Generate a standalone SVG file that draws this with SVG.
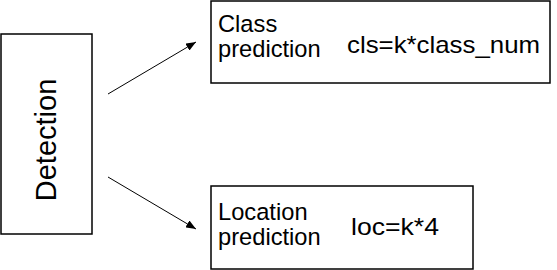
<svg xmlns="http://www.w3.org/2000/svg" width="557" height="270" viewBox="0 0 557 270">
<style>
.box{fill:#fff;stroke:#000;stroke-width:1.5}
.t{font-family:"Liberation Sans",Arial,sans-serif;fill:#000}
.lbl{font-size:23.7px}
.edge{stroke:#000;stroke-width:1;fill:none}
</style>
<defs>
<marker id="ah" markerWidth="10" markerHeight="8" refX="10" refY="4" orient="auto" markerUnits="userSpaceOnUse">
<path d="M0,0 L10,4 L0,8 Z" fill="#000"/>
</marker>
</defs>
<rect width="557" height="270" fill="#fff"/>
<g id="detection">
<rect class="box" x="1" y="34" width="91" height="200"/>
<text class="t" font-size="29" text-anchor="middle" transform="translate(56,140) rotate(-90)">Detection</text>
</g>
<g id="class">
<rect class="box" x="211" y="1" width="339" height="82"/>
<text class="t lbl" x="218" y="32">Class</text>
<text class="t lbl" x="218" y="57">prediction</text>
<text class="t" font-size="24" x="347" y="53" textLength="193" lengthAdjust="spacingAndGlyphs">cls=k*class_num</text>
</g>
<g id="location">
<rect class="box" x="211" y="186" width="262" height="83"/>
<text class="t lbl" x="218" y="220">Location</text>
<text class="t lbl" x="218" y="245">prediction</text>
<text class="t" font-size="24" x="351" y="235" textLength="88" lengthAdjust="spacingAndGlyphs">loc=k*4</text>
</g>
<g id="connectors">
<line class="edge" x1="108" y1="94" x2="196" y2="42" marker-end="url(#ah)"/>
<line class="edge" x1="108" y1="177" x2="196" y2="229" marker-end="url(#ah)"/>
</g>
</svg>
